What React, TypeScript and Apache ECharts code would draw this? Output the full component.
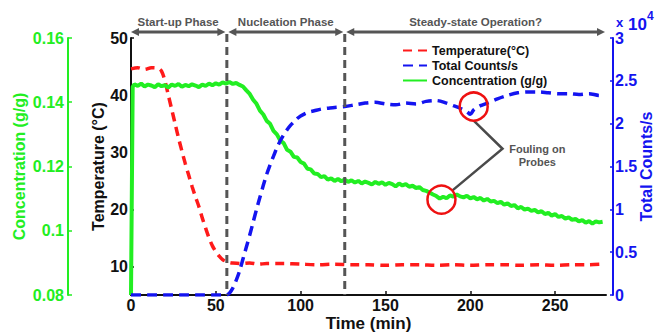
import React, { useEffect, useRef } from "react";
import * as echarts from "echarts";

// ---------- data ----------
const timeTickValues = [0, 50, 100, 150, 200, 250];
const tempTickValues = [10, 20, 30, 40, 50];

// Temperature (°C) vs time (min)
const tempTime = [0, 4, 8, 12, 16, 18, 20, 22, 24, 26, 28, 30, 32, 34, 36, 38, 40, 42, 44, 46, 48, 50, 52, 54, 56, 58, 60, 65, 70, 75, 80, 90, 100, 110, 120, 130, 140, 150, 160, 170, 180, 190, 200, 210, 220, 230, 240, 250, 260, 270, 278];
const tempValues = [44.6, 44.8, 44.5, 44.8, 44.7, 44.2, 42.5, 40.0, 37.5, 35.0, 32.5, 30.2, 28.0, 26.0, 24.0, 22.2, 20.5, 18.5, 16.7, 15.0, 13.6, 12.6, 11.8, 11.2, 10.9, 10.7, 10.6, 10.5, 10.6, 10.4, 10.5, 10.5, 10.4, 10.3, 10.4, 10.3, 10.3, 10.2, 10.3, 10.3, 10.2, 10.3, 10.2, 10.3, 10.3, 10.2, 10.3, 10.2, 10.3, 10.3, 10.4];

// Total counts/s (x10^4) vs time (min)
const countsTime = [0, 10, 20, 30, 40, 50, 56, 58, 60, 62, 64, 66, 68, 70, 72, 74, 76, 78, 80, 82, 84, 86, 88, 90, 92, 94, 96, 98, 100, 104, 108, 112, 116, 120, 126, 132, 138, 144, 150, 156, 162, 168, 174, 180, 186, 190, 194, 198, 200, 202, 206, 210, 216, 222, 228, 234, 240, 246, 252, 258, 264, 270, 276, 278];
const countsE4 = [0, 0, 0, 0, 0, 0, 0, 0.02, 0.08, 0.17, 0.28, 0.42, 0.56, 0.70, 0.85, 1.0, 1.14, 1.28, 1.41, 1.52, 1.62, 1.72, 1.80, 1.87, 1.93, 1.98, 2.02, 2.06, 2.09, 2.13, 2.15, 2.17, 2.18, 2.19, 2.20, 2.22, 2.24, 2.25, 2.23, 2.22, 2.24, 2.23, 2.26, 2.27, 2.24, 2.21, 2.18, 2.14, 2.11, 2.16, 2.21, 2.24, 2.29, 2.33, 2.36, 2.37, 2.37, 2.36, 2.35, 2.35, 2.34, 2.35, 2.33, 2.33];

// Concentration (g/g) vs time (min)
const concPoints: [number, number][] = [
  [0, 0.080], [1, 0.1448], [2, 0.1456], [4, 0.1451], [6, 0.1458], [8, 0.1449], [10, 0.1455], [12, 0.1452], [14, 0.1447], [16, 0.1456],
  [18, 0.1450], [20, 0.1453], [22, 0.1446], [24, 0.1455], [26, 0.1451], [28, 0.1457], [30, 0.1448], [32, 0.1454], [34, 0.1450], [36, 0.1456],
  [38, 0.1452], [40, 0.1447], [42, 0.1455], [44, 0.1451], [46, 0.1458], [48, 0.1453], [50, 0.1459], [52, 0.1455], [54, 0.1462], [56, 0.1458],
  [58, 0.1463], [60, 0.1457], [62, 0.1460], [64, 0.1454], [66, 0.1449], [68, 0.1437], [70, 0.1426], [72, 0.1408], [74, 0.1395], [76, 0.1374],
  [78, 0.1362], [80, 0.1342], [82, 0.1333], [84, 0.1311], [86, 0.1300], [88, 0.1281], [90, 0.1273], [92, 0.1252], [94, 0.1246], [96, 0.1230],
  [98, 0.1228], [100, 0.1214], [102, 0.1209], [104, 0.1193], [106, 0.1191], [108, 0.1178], [110, 0.1177], [112, 0.1167], [114, 0.1170], [116, 0.1159],
  [118, 0.1163], [120, 0.1155], [122, 0.1161], [124, 0.1154], [126, 0.1159], [128, 0.1152], [130, 0.1157], [132, 0.1150], [134, 0.1155], [136, 0.1147],
  [138, 0.1153], [140, 0.1149], [142, 0.1144], [144, 0.1152], [146, 0.1146], [148, 0.1151], [150, 0.1143], [152, 0.1149], [154, 0.1145], [156, 0.1138],
  [158, 0.1147], [160, 0.1141], [162, 0.1145], [164, 0.1137], [166, 0.1140], [168, 0.1133], [170, 0.1136], [172, 0.1127], [174, 0.1124], [176, 0.1119],
  [178, 0.1113], [180, 0.1108], [182, 0.1100], [184, 0.1106], [186, 0.1101], [188, 0.1110], [190, 0.1106], [192, 0.1113], [194, 0.1107], [196, 0.1104],
  [198, 0.1109], [200, 0.1101], [202, 0.1105], [204, 0.1098], [206, 0.1102], [208, 0.1094], [210, 0.1099], [212, 0.1091], [214, 0.1093], [216, 0.1086],
  [218, 0.1090], [220, 0.1081], [222, 0.1085], [224, 0.1077], [226, 0.1080], [228, 0.1070], [230, 0.1074], [232, 0.1066], [234, 0.1069], [236, 0.1062],
  [238, 0.1065], [240, 0.1057], [242, 0.1061], [244, 0.1052], [246, 0.1056], [248, 0.1047], [250, 0.1052], [252, 0.1043], [254, 0.1046], [256, 0.1038],
  [258, 0.1042], [260, 0.1034], [262, 0.1037], [264, 0.1029], [266, 0.1033], [268, 0.1025], [270, 0.1030], [272, 0.1022], [274, 0.1029], [276, 0.1026],
  [278, 0.1028],
];

// Phase boundaries (min) and labels
const phaseBounds = [0, 56.5, 126, 280];
const phaseLabels = ["Start-up Phase", "Nucleation Phase", "Steady-state Operation?"];

// Fouling markers: [time, counts x10^4] and [time, concentration]
const foulingCounts: [number, number] = [202, 2.2];
const foulingConc: [number, number] = [183, 0.1097];
const foulingVertex: [number, number] = [219, 30.6]; // temperature-axis coords
const foulingTextAt: [number, number] = [239.5, 29.4];

const FONT = '"Liberation Sans", Arial, Helvetica, sans-serif';
const RED = "#ff1a1a";
const BLUE = "#1414f0";
const GREEN = "#22ee22";
const GRAY = "#555555";

export default function App() {
  const ref = useRef<HTMLDivElement>(null);

  useEffect(() => {
    const chart = echarts.init(ref.current!, null, { renderer: "svg" });

    const option: any = {
      animation: false,
      backgroundColor: "#ffffff",
      textStyle: { fontFamily: FONT },
      grid: { left: 131, right: 50, top: 38, bottom: 37, containLabel: false, outerBoundsMode: "none" },
      legend: {
        left: 397,
        top: 39,
        orient: "vertical",
        itemWidth: 24,
        itemHeight: 10,
        itemGap: 2,
        itemStyle: { opacity: 0 },
        data: ["Temperature(\u00B0C)", "Total Counts/s", "Concentration (g/g)"],
        textStyle: { fontFamily: FONT, fontWeight: "bold", fontSize: 12.5, color: "#111" },
      },
      xAxis: {
        type: "value",
        min: 0,
        max: 280,
        name: "Time (min)",
        nameLocation: "middle",
        nameGap: 20,
        nameMoveOverlap: false,
        nameTextStyle: { fontFamily: FONT, fontWeight: "bold", fontSize: 17, color: "#111" },
        axisLine: { lineStyle: { color: "#111", width: 2 } },
        axisTick: { inside: true, length: 4, lineStyle: { color: "#111", width: 1.5 }, customValues: timeTickValues },
        axisLabel: { customValues: timeTickValues, margin: 2, fontFamily: FONT, fontWeight: "bold", fontSize: 16, color: "#111" },
        splitLine: { show: false },
      },
      yAxis: [
        {
          type: "value",
          position: "left",
          min: 5,
          max: 50,
          name: "Temperature (\u00B0C)",
          nameLocation: "middle",
          nameRotate: 90,
          nameGap: 25,
          nameMoveOverlap: false,
          nameTextStyle: { fontFamily: FONT, fontWeight: "bold", fontSize: 16, color: "#111" },
          axisLine: { show: true, lineStyle: { color: "#111", width: 2 } },
          axisTick: { show: true, inside: true, length: 3, lineStyle: { color: "#111", width: 1.5 }, customValues: tempTickValues },
          axisLabel: { customValues: tempTickValues, margin: 3, fontFamily: FONT, fontWeight: "bold", fontSize: 16, color: "#111" },
          splitLine: { show: false },
        },
        {
          type: "value",
          position: "right",
          offset: 7,
          min: 0,
          max: 3,
          interval: 0.5,
          name: "Total Counts/s",
          nameLocation: "middle",
          nameRotate: 90,
          nameGap: 25,
          nameMoveOverlap: false,
          nameTextStyle: { fontFamily: FONT, fontWeight: "bold", fontSize: 16, color: BLUE },
          axisLine: { show: true, lineStyle: { color: BLUE, width: 2 } },
          axisTick: { show: true, inside: true, length: 3, lineStyle: { color: BLUE, width: 1.5 } },
          axisLabel: { margin: 2, fontFamily: FONT, fontWeight: "bold", fontSize: 16, color: BLUE },
          splitLine: { show: false },
        },
        {
          type: "value",
          position: "left",
          offset: 63,
          min: 0.08,
          max: 0.16,
          interval: 0.02,
          name: "Concentration (g/g)",
          nameLocation: "middle",
          nameRotate: 90,
          nameGap: 41,
          nameMoveOverlap: false,
          nameTextStyle: { fontFamily: FONT, fontWeight: "bold", fontSize: 16, color: GREEN },
          axisLine: { show: true, lineStyle: { color: GREEN, width: 2 } },
          axisTick: { show: true, inside: true, length: 4, lineStyle: { color: GREEN, width: 1.5 } },
          axisLabel: {
            margin: 4,
            fontFamily: FONT,
            fontWeight: "bold",
            fontSize: 16,
            color: GREEN,
            formatter: (v: number) => String(+v.toFixed(2)),
          },
          splitLine: { show: false },
        },
      ],
      series: [
        {
          name: "Temperature(\u00B0C)",
          type: "line",
          yAxisIndex: 0,
          showSymbol: false,
          symbol: "none",
          smooth: 0.3,
          color: RED,
          lineStyle: { color: RED, width: 3.5, type: [9, 6] },
          data: tempTime.map((t, i) => [t, tempValues[i]]),
          z: 3,
        },
        {
          name: "Total Counts/s",
          type: "line",
          yAxisIndex: 1,
          showSymbol: false,
          symbol: "none",
          smooth: 0.3,
          color: BLUE,
          lineStyle: { color: BLUE, width: 3.5, type: [10, 6] },
          data: countsTime.map((t, i) => [t, countsE4[i]]),
          z: 4,
        },
        {
          name: "Concentration (g/g)",
          type: "line",
          yAxisIndex: 2,
          showSymbol: false,
          symbol: "none",
          color: GREEN,
          lineStyle: { color: GREEN, width: 4 },
          data: concPoints,
          z: 3,
        },
      ],
    };
    chart.setOption(option);

    // ----- overlays positioned through the chart's own scales -----
    const pT = (x: number, y: number) => chart.convertToPixel({ seriesIndex: 0 }, [x, y]) as number[];
    const pC = (x: number, y: number) => chart.convertToPixel({ seriesIndex: 1 }, [x, y]) as number[];
    const pG = (x: number, y: number) => chart.convertToPixel({ seriesIndex: 2 }, [x, y]) as number[];

    const topY = pT(0, 50)[1];
    const bottomY = pT(0, 5)[1];
    const arrowY = topY - 6;
    const head = 8;
    const graphics: any[] = [];

    for (let i = 0; i < phaseLabels.length; i++) {
      const x0 = pT(phaseBounds[i], 50)[0] + (i === 0 ? 0 : 1.5);
      const x1 = pT(phaseBounds[i + 1], 50)[0] - (i === phaseLabels.length - 1 ? 1 : 1.5);
      graphics.push({
        type: "line",
        z: 20,
        shape: { x1: x0 + head - 1, y1: arrowY, x2: x1 - head + 1, y2: arrowY },
        style: { stroke: GRAY, lineWidth: 3 },
      });
      graphics.push({
        type: "polygon",
        z: 20,
        shape: { points: [[x0, arrowY], [x0 + head, arrowY - 4], [x0 + head, arrowY + 4]] },
        style: { fill: GRAY },
      });
      graphics.push({
        type: "polygon",
        z: 20,
        shape: { points: [[x1, arrowY], [x1 - head, arrowY - 4], [x1 - head, arrowY + 4]] },
        style: { fill: GRAY },
      });
      graphics.push({
        type: "text",
        z: 20,
        x: (x0 + x1) / 2,
        y: arrowY - 10,
        style: {
          text: phaseLabels[i],
          fill: GRAY,
          font: `bold 11.5px ${FONT}`,
          align: "center",
          verticalAlign: "middle",
        },
      });
    }
    // dashed phase separators
    [phaseBounds[1], phaseBounds[2]].forEach((b) => {
      const x = pT(b, 50)[0];
      graphics.push({
        type: "line",
        z: 20,
        shape: { x1: x, y1: arrowY + 2, x2: x, y2: bottomY },
        style: { stroke: GRAY, lineWidth: 3, lineDash: [8, 5] },
      });
    });

    // x10^4 exponent label
    const axisRightX = pC(280, 3)[0] + 7;
    graphics.push(
      { type: "text", z: 20, x: axisRightX + 3, y: topY - 16, style: { text: "x", fill: BLUE, font: `bold 13px ${FONT}`, align: "left", verticalAlign: "middle" } },
      { type: "text", z: 20, x: axisRightX + 15, y: topY - 14, style: { text: "10", fill: BLUE, font: `bold 17px ${FONT}`, align: "left", verticalAlign: "middle" } },
      { type: "text", z: 20, x: axisRightX + 34, y: topY - 22, style: { text: "4", fill: BLUE, font: `bold 12px ${FONT}`, align: "left", verticalAlign: "middle" } }
    );

    // fouling annotation
    const c1 = pC(foulingCounts[0], foulingCounts[1]);
    const c2 = pG(foulingConc[0], foulingConc[1]);
    const v = pT(foulingVertex[0], foulingVertex[1]);
    const r = 14;
    const dx = v[0] - c2[0];
    const dy = v[1] - c2[1];
    const d = Math.sqrt(dx * dx + dy * dy);
    const e2 = [c2[0] + (dx / d) * r, c2[1] + (dy / d) * r];
    graphics.push({
      type: "polyline",
      z: 21,
      shape: { points: [[c1[0], c1[1] + r], v, e2] },
      style: { stroke: "#4a4a4a", lineWidth: 2.5, fill: null },
    });
    graphics.push(
      { type: "circle", z: 22, shape: { cx: c1[0], cy: c1[1], r }, style: { stroke: "#ee1111", lineWidth: 2.5, fill: null } },
      { type: "circle", z: 22, shape: { cx: c2[0], cy: c2[1], r }, style: { stroke: "#ee1111", lineWidth: 2.5, fill: null } }
    );
    const tp = pT(foulingTextAt[0], foulingTextAt[1]);
    graphics.push({
      type: "text",
      z: 22,
      x: tp[0],
      y: tp[1],
      style: {
        text: "Fouling on\nProbes",
        fill: GRAY,
        font: `bold 11px ${FONT}`,
        lineHeight: 13,
        align: "center",
        verticalAlign: "middle",
      },
    });

    chart.setOption({ graphic: graphics });

    return () => chart.dispose();
  }, []);

  return (
    <div
      ref={ref}
      style={{ position: "absolute", left: 0, top: 0, width: 656, height: 332, background: "#fff" }}
    />
  );
}
